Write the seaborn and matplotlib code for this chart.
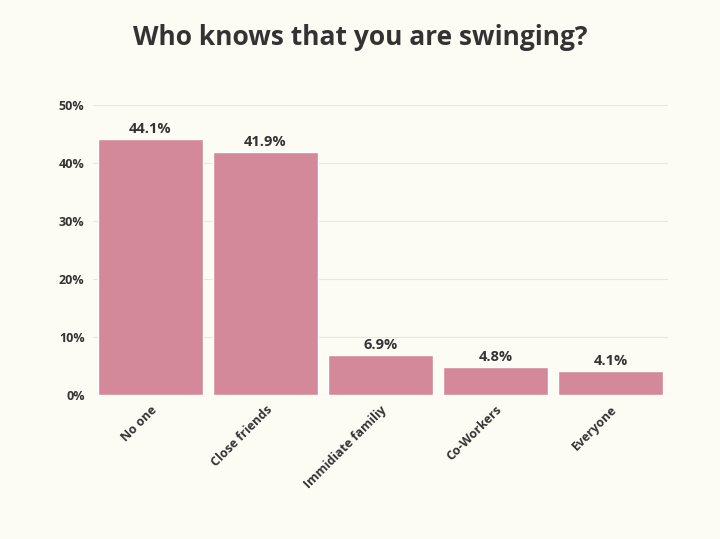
import numpy as np
import seaborn as sns
import matplotlib.pyplot as plt

categories = ["No one", "Close friends", "Immidiate familiy", "Co-Workers", "Everyone"]
values = [44.1, 41.9, 6.9, 4.8, 4.1]

bg = "#fcfcf4"
sns.set_theme(style="whitegrid")
plt.rcParams['font.family'] = ['Open Sans', 'DejaVu Sans']

fig = plt.figure(figsize=(7.2, 5.39), dpi=100, facecolor=bg)
ax = fig.add_axes([0.129, 0.267, 0.799, 0.538], facecolor=bg)

sns.barplot(x=categories, y=values, color="#d4899a", saturation=1, width=0.91, ax=ax)

for i, v in enumerate(values):
    ax.text(i, v + 0.5, "{}%".format(v), ha="center", va="bottom",
            fontsize=10.5, fontweight="bold", color="#333333")

ax.set_ylim(0, 50)
ax.set_yticks(np.arange(0, 51, 10))
ax.set_yticklabels(["{}%".format(t) for t in range(0, 51, 10)],
                   fontsize=9, fontweight="bold", color="#333333")
ax.set_xticks(range(len(categories)))
ax.set_xticklabels(categories, rotation=45, ha="right", rotation_mode="anchor",
                   fontsize=9, fontweight="bold", color="#333333")
ax.tick_params(axis="both", length=0, pad=6)
ax.grid(axis="x", visible=False)
ax.grid(axis="y", color="#e8e8e0", linewidth=0.8)
ax.set_axisbelow(True)
for s in ax.spines.values():
    s.set_visible(False)

fig.text(0.5, 0.93, "Who knows that you are swinging?", ha="center", va="center",
         fontsize=19, fontweight="bold", color="#333333")

fig.savefig("out.png", dpi=100, facecolor=bg)
